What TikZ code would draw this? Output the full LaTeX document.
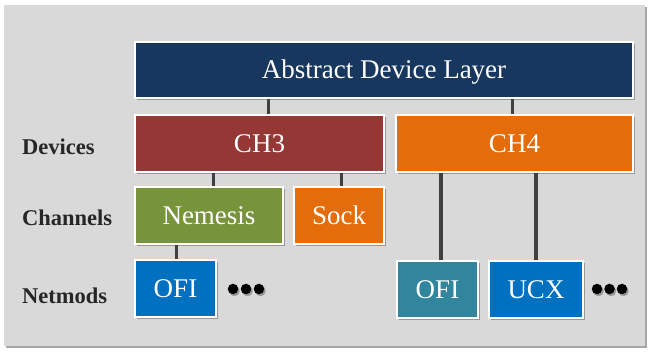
\documentclass[tikz,border=0pt]{standalone}
\usepackage{fontspec}
\setmainfont{Liberation Serif}
\usetikzlibrary{shadows}
\definecolor{bgcol}{HTML}{D9D9D9}
\definecolor{navy}{HTML}{17375E}
\definecolor{ch3col}{HTML}{953735}
\definecolor{orangecol}{HTML}{E46C0A}
\definecolor{greencol}{HTML}{77933C}
\definecolor{bluecol}{HTML}{0070C0}
\definecolor{tealcol}{HTML}{31859C}
\definecolor{conncol}{HTML}{404040}
\definecolor{labcol}{HTML}{262626}
\begin{document}
\begin{tikzpicture}[x=1pt,y=-1pt,
  shad/.style={drop shadow={shadow xshift=1.5pt,shadow yshift=-2.5pt,opacity=0.3,fill=black}},
  box/.style={draw=white,line width=1.3pt,text=white,shad,
    font=\fontsize{27}{27}\selectfont,inner sep=0pt,
    text height=18pt,text depth=0pt,minimum height=57pt},
  lab/.style={anchor=base west,text=labcol,font=\fontsize{22.5}{22.5}\selectfont\bfseries,inner sep=0pt},
  conn/.style={draw=conncol,line width=3pt},
  conntk/.style={draw=conncol,line width=3.8pt},
  dotn/.style={circle,fill=black,minimum size=10.5pt,inner sep=0pt,
    drop shadow={shadow xshift=1.5pt,shadow yshift=-2pt,opacity=0.3,fill=black}}]
\useasboundingbox (0,0) rectangle (649,352);
\fill[white] (0,0) rectangle (649,352);
\fill[bgcol,drop shadow={shadow xshift=1.5pt,shadow yshift=-2pt,opacity=0.35,fill=black}] (4,5) rectangle (645,346);

\node[box,fill=navy,minimum width=498pt,minimum height=56pt] (adl) at (384,70) {Abstract Device Layer};
\node[box,fill=ch3col,minimum width=249pt] (ch3) at (259.5,143.5) {CH3};
\node[box,fill=orangecol,minimum width=237pt] (ch4) at (514.5,143.5) {CH4};
\node[box,fill=greencol,minimum width=148pt] (nem) at (209,215.5) {Nemesis};
\node[box,fill=orangecol,minimum width=90pt] (sock) at (339,215.5) {Sock};
\node[box,fill=bluecol,minimum width=81pt] (ofia) at (175.5,288.5) {OFI};
\node[box,fill=tealcol,minimum width=81pt] (ofib) at (437.5,289.5) {OFI};
\node[box,fill=bluecol,minimum width=94pt] (ucx) at (536,289.5) {UCX};

\draw[conn] (adl.south -| 268,0) -- (ch3.north -| 268,0);
\draw[conn] (adl.south -| 512,0) -- (ch4.north -| 512,0);
\draw[conn] (ch3.south -| 213,0) -- (nem.north -| 213,0);
\draw[conn] (ch3.south -| 341,0) -- (sock.north -| 341,0);
\draw[conn] (nem.south -| 176,0) -- (ofia.north -| 176,0);
\draw[conntk] (ch4.south -| 441,0) -- (ofib.north -| 441,0);
\draw[conntk] (ch4.south -| 536,0) -- (ucx.north -| 536,0);

\node[dotn] (la) at (233,289) {};
\node[dotn] (lb) at (246,289) {};
\node[dotn] (lc) at (259,289) {};
\node[dotn] (ra) at (597,289) {};
\node[dotn] (rb) at (609.5,289) {};
\node[dotn] (rc) at (622,289) {};

\node[lab] (ldev) at (22,155) {Devices};
\node[lab] (lchan) at (22,226) {Channels};
\node[lab] (lnet) at (22,304) {Netmods};
\end{tikzpicture}
\end{document}
